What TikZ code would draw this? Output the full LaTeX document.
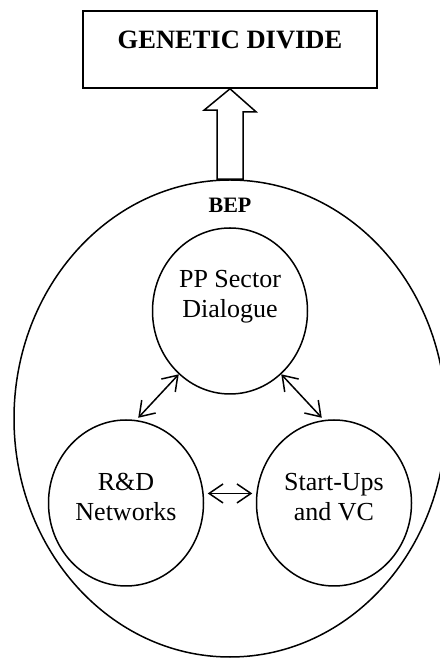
\documentclass[tikz,border=0pt]{standalone}
\usepackage{fontspec}
\setmainfont{Liberation Serif}
\usetikzlibrary{shapes}
\usetikzlibrary{arrows.meta}
\tikzset{
	gd_box/.style = {rectangle, draw=black, line width=1.6pt, inner sep=0pt,
		minimum width=294pt, minimum height=77pt, text height=38pt, text depth=39pt,
		font=\fontsize{26.5}{30}\selectfont\bfseries},% boite du haut
	bep_oval/.style = {ellipse, draw=black, line width=1.5pt, inner sep=0pt,
		minimum width=432pt, minimum height=477pt},% grand ovale
	sub_oval/.style = {ellipse, draw=black, line width=1.5pt, inner sep=0pt,
		minimum width=155pt, minimum height=166pt},% petits cercles
	sub_txt/.style = {align=center, font=\fontsize{26}{30}\selectfont},% texte des cercles
	link/.style = {<->, line width=1.5pt,
		>={Straight Barb[length=14pt,width=19pt]}},% fleche double
	block/.style = {draw=black, line width=1.5pt, line join=miter}% grosse fleche
}
\begin{document}
\begin{tikzpicture}[x=1pt,y=1pt]
	\useasboundingbox (0,0) rectangle (439,658);
	\node [gd_box] (gd) at (230,608.5) {GENETIC DIVIDE};
	\node [bep_oval, label={[anchor=base, yshift=-33pt,
		font=\fontsize{22}{26}\selectfont\bfseries]north:BEP}] (bep) at (230,239.5) {};
	\node [sub_oval, label={[sub_txt, yshift=14pt]center:PP Sector\\Dialogue}] (pp) at (230,347) {};
	\node [sub_oval, label={[sub_txt, yshift=6pt]center:R\&D\\Networks}] (rd) at (126,155) {};
	\node [sub_oval, label={[sub_txt, yshift=6pt]center:Start-Ups\\and VC}] (su) at (334,155) {};
	% liens entre les cercles
	\draw [link, shorten >=3pt] (pp.231) -- (rd.83);
	\draw [link, shorten >=3pt] (pp.309) -- (su.97);
	\draw [link, shorten <=4pt, shorten >=4pt] (rd.7) -- (su.173);
	% grosse fleche vers le haut
	\draw [block] (gd.south) -- ++(26,-23) -- ++(-13,0) -- ([xshift=13pt]bep.north)
		-- ([xshift=-13pt]bep.north) -- ++(0,69) -- ++(-13,0) -- cycle;
\end{tikzpicture}
\end{document}
